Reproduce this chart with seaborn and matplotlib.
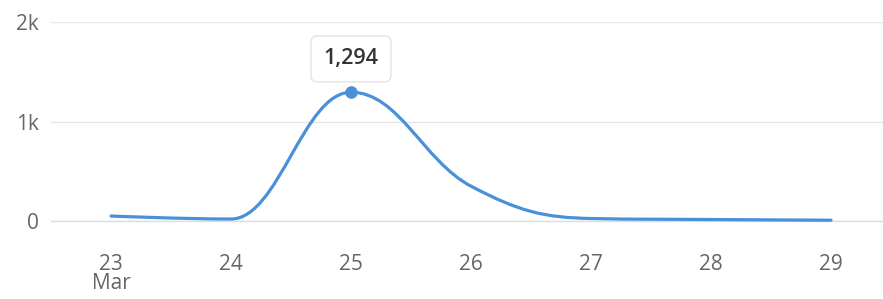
import matplotlib
matplotlib.use("Agg")
import matplotlib.pyplot as plt
from matplotlib.path import Path
from matplotlib.patches import PathPatch
from matplotlib.ticker import FixedLocator
import seaborn as sns

days = [23, 24, 25, 26, 27, 28, 29]
counts = [50, 20, 1294, 350, 25, 15, 8]
day_labels = ["23\nMar", "24", "25", "26", "27", "28", "29"]
y_ticks = [0, 1000, 2000]
y_labels = ["0", "1k", "2k"]
half_days = [22.5, 23.5, 24.5, 25.5, 26.5, 27.5, 28.5, 29.5]
peak_day = 25
peak_count = 1294
peak_label = "1,294"

LINE = "#4a90d9"


def spline_path(xs, ys, smoothing=1.5):
    # bezier control points the way highcharts "spline" series builds them
    n = len(xs)
    left = [(x, y) for x, y in zip(xs, ys)]
    right = list(left)
    d = smoothing + 1
    for i in range(1, n - 1):
        x, y = xs[i], ys[i]
        lx, ly = xs[i - 1], ys[i - 1]
        nx, ny = xs[i + 1], ys[i + 1]
        lcx, lcy = (smoothing * x + lx) / d, (smoothing * y + ly) / d
        rcx, rcy = (smoothing * x + nx) / d, (smoothing * y + ny) / d
        corr = (rcy - lcy) * (rcx - x) / (rcx - lcx) + y - rcy
        lcy += corr
        rcy += corr
        if lcy > ly and lcy > y:
            lcy = max(ly, y); rcy = 2 * y - lcy
        elif lcy < ly and lcy < y:
            lcy = min(ly, y); rcy = 2 * y - lcy
        if rcy > ny and rcy > y:
            rcy = max(ny, y); lcy = 2 * y - rcy
        elif rcy < ny and rcy < y:
            rcy = min(ny, y); lcy = 2 * y - rcy
        left[i] = (lcx, lcy)
        right[i] = (rcx, rcy)
    verts = [(xs[0], ys[0])]
    codes = [Path.MOVETO]
    for i in range(1, n):
        verts += [right[i - 1], left[i], (xs[i], ys[i])]
        codes += [Path.CURVE4] * 3
    return Path(verts, codes)


sns.set_style("white")
plt.rcParams["font.family"] = ["Open Sans", "DejaVu Sans"]

fig = plt.figure(figsize=(8.83, 2.99), dpi=100)
ax = fig.add_axes([51 / 883, 78 / 299, 1 - 51 / 883, 199 / 299])

ax.add_patch(PathPatch(spline_path(days, counts), fill=False, edgecolor=LINE,
                       lw=2.3, capstyle="round", joinstyle="round", clip_on=False, zorder=3))
sns.scatterplot(x=[peak_day], y=[peak_count], color=LINE, s=70, edgecolor=LINE,
                ax=ax, zorder=4, clip_on=False)

ax.annotate(peak_label, (peak_day, peak_count), xytext=(0, 24), textcoords="offset points",
            ha="center", va="center", fontsize=15.5, color="#333333", fontweight="semibold",
            bbox=dict(boxstyle="round,pad=0.58,rounding_size=0.3", fc="white", ec="#e3e3e3", lw=1))

ax.set_xlim(22.5, 22.5 + 832 / 120)
ax.set_ylim(0, 2000)
ax.set_yticks(y_ticks)
ax.set_yticklabels(y_labels)
ax.set_xticks(days)
ax.set_xticklabels(day_labels, linespacing=0.88)
ax.xaxis.set_minor_locator(FixedLocator(half_days))

ax.grid(axis="y", color="#e6e6e6", lw=1)
ax.set_axisbelow(True)
for side in ["top", "right", "left"]:
    ax.spines[side].set_visible(False)
ax.spines["bottom"].set_color("#d8dde6")
ax.spines["bottom"].set_linewidth(1)

ax.tick_params(axis="x", which="major", length=0, pad=24, labelsize=15, labelcolor="#666666")
ax.tick_params(axis="x", which="minor", length=5, width=1, color="#ccd6eb", direction="out")
ax.tick_params(axis="y", length=0, pad=9, labelsize=15, labelcolor="#666666")

fig.savefig("out.png", dpi=100)
